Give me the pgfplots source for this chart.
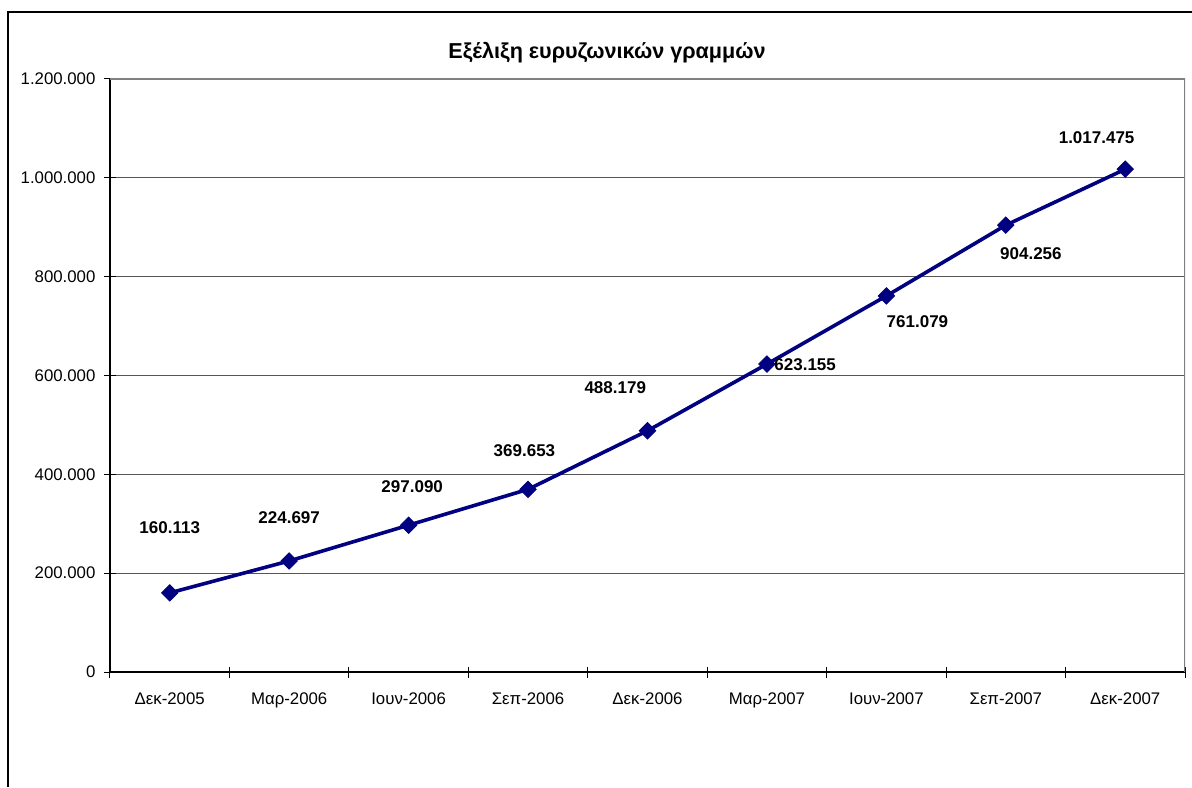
\documentclass[border=0pt]{standalone}
\usepackage{pgfplots}
\pgfplotsset{compat=1.18}
\usepackage{fontspec}
\setmainfont{Liberation Sans}
\definecolor{linenavy}{HTML}{000080}
\definecolor{gridgray}{HTML}{555555}
\definecolor{framegray}{HTML}{808080}

\begin{document}
\begin{tikzpicture}
\useasboundingbox (0,0) rectangle (596pt,393.5pt);
% outer chart frame (cut by the picture edge on the right and bottom)
\draw[black, line width=0.6pt] (4pt,0) -- (4pt,387.5pt) -- (600pt,387.5pt);
\node[font=\fontsize{10.8}{12}\selectfont\bfseries] at (303.5pt,367pt) {Εξέλιξη ευρυζωνικών γραμμών};
\begin{axis}[
    at={(55pt,57.5pt)}, anchor=south west,
    scale only axis, width=537.5pt, height=296.5pt,
    xmin=-0.5, xmax=8.5, ymin=0, ymax=1200000,
    axis lines=left, axis line style={-, black, line width=0.6pt},
    xtick={0,...,8},
    xticklabels={Δεκ-2005,Μαρ-2006,Ιουν-2006,Σεπ-2006,Δεκ-2006,Μαρ-2007,Ιουν-2007,Σεπ-2007,Δεκ-2007},
    minor xtick={-0.5,0.5,...,8.5},
    ytick={0,200000,...,1200000},
    scaled y ticks=false,
    ymajorgrids, grid style={gridgray, line width=0.5pt},
    tick align=center, major tick length=5.5pt, minor tick length=5.5pt,
    x tick style={draw=none}, minor x tick style={draw=black, line width=0.5pt},
    y tick style={black, line width=0.5pt},
    tick label style={font=\fontsize{8.4}{10}\selectfont},
    xticklabel style={yshift=-4pt},
    yticklabel style={xshift=-1pt},
    /pgf/number format/fixed,
    /pgf/number format/precision=0,
    /pgf/number format/1000 sep={.},
    /pgf/number format/assume math mode=true,
]
\draw[framegray, line width=0.6pt] (rel axis cs:0,1) -- (rel axis cs:1,1) -- (rel axis cs:1,0);
\addplot[linenavy, line width=1.8pt, mark=square*, mark size=2.9pt,
    mark options={rotate=45, fill=linenavy, draw=linenavy, line width=0.4pt}]
  coordinates {(0,160113) (1,224697) (2,297090) (3,369653) (4,488179)
               (5,623155) (6,761079) (7,904256) (8,1017475)};
\begin{scope}[every node/.style={font=\fontsize{8.5}{10}\selectfont\bfseries}]
\node at (axis cs:0,291400) {160.113};
\node at (axis cs:1,311600) {224.697};
\node at (axis cs:2.03,374400) {297.090};
\node at (axis cs:2.97,447200) {369.653};
\node at (axis cs:3.73,574700) {488.179};
\node at (axis cs:5.32,621200) {623.155};
\node at (axis cs:6.26,708300) {761.079};
\node at (axis cs:7.21,845900) {904.256};
\node at (axis cs:7.76,1080600) {1.017.475};
\end{scope}
\end{axis}
\end{tikzpicture}
\end{document}
